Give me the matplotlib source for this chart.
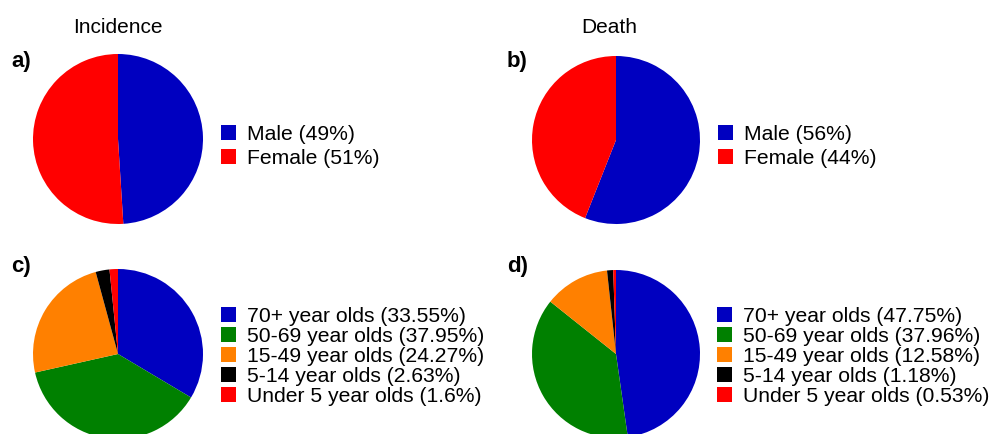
import matplotlib
matplotlib.use("Agg")
import matplotlib.pyplot as plt
from matplotlib.patches import Rectangle

plt.rcParams['font.family'] = ['Liberation Sans', 'DejaVu Sans']

W, H = 990, 434
DPI = 100

# Shares in percent
sex_labels = ["Male", "Female"]
sex_incidence = [49, 51]
sex_death = [56, 44]
sex_colors = ["#0000C0", "#FF0000"]

age_labels = ["70+ year olds", "50-69 year olds", "15-49 year olds",
              "5-14 year olds", "Under 5 year olds"]
age_incidence = [33.55, 37.95, 24.27, 2.63, 1.6]
age_death = [47.75, 37.96, 12.58, 1.18, 0.53]
age_colors = ["#0000C0", "#008000", "#FF8000", "#000000", "#FF0000"]

FS = 15
LEG_FS = 15.2


def fx(x):
    return x / W


def fy(y):
    # pixel row from the top -> figure fraction
    return 1 - y / H


def pie_panel(fig, cx, cy, r, values, colors):
    ax = fig.add_axes([fx(cx - r), fy(cy + r), 2 * r / W, 2 * r / H])
    ax.pie(values, colors=colors, startangle=90, counterclock=False,
           wedgeprops=dict(linewidth=0))
    ax.set_xlim(-1, 1)
    ax.set_ylim(-1, 1)
    ax.set_aspect('equal')
    ax.axis('off')
    return ax


def legend_block(fig, x, y_first, pitch, labels, values, colors):
    size = 15
    for i, (lab, v, c) in enumerate(zip(labels, values, colors)):
        bottom = y_first + i * pitch
        fig.patches.append(Rectangle((fx(x), fy(bottom)), size / W, size / H,
                                     transform=fig.transFigure, color=c,
                                     linewidth=0))
        fig.text(fx(x + 26), fy(bottom), f"{lab} ({v:g}%)", fontsize=LEG_FS,
                 va='baseline', ha='left')


fig = plt.figure(figsize=(W / DPI, H / DPI), dpi=DPI)

pie_panel(fig, 118, 139, 85, sex_incidence, sex_colors)
pie_panel(fig, 616, 140, 84, sex_death, sex_colors)
pie_panel(fig, 118, 354, 85, age_incidence, age_colors)
pie_panel(fig, 616, 354, 84, age_death, age_colors)

legend_block(fig, 221, 140, 23.5, sex_labels, sex_incidence, sex_colors)
legend_block(fig, 718, 140, 23.5, sex_labels, sex_death, sex_colors)
legend_block(fig, 221, 322, 20, age_labels, age_incidence, age_colors)
legend_block(fig, 717, 322, 20, age_labels, age_death, age_colors)

fig.text(fx(118), fy(33), "Incidence", fontsize=FS, ha='center', va='baseline')
fig.text(fx(609), fy(33), "Death", fontsize=FS, ha='center', va='baseline')

for lab, x, y in [("a)", 11, 67), ("b)", 507, 67), ("c)", 11, 272), ("d)", 507, 272)]:
    fig.text(fx(x), fy(y), lab, fontsize=FS + 1, fontweight='bold', va='baseline', ha='left')

fig.savefig("out.png", dpi=DPI)
